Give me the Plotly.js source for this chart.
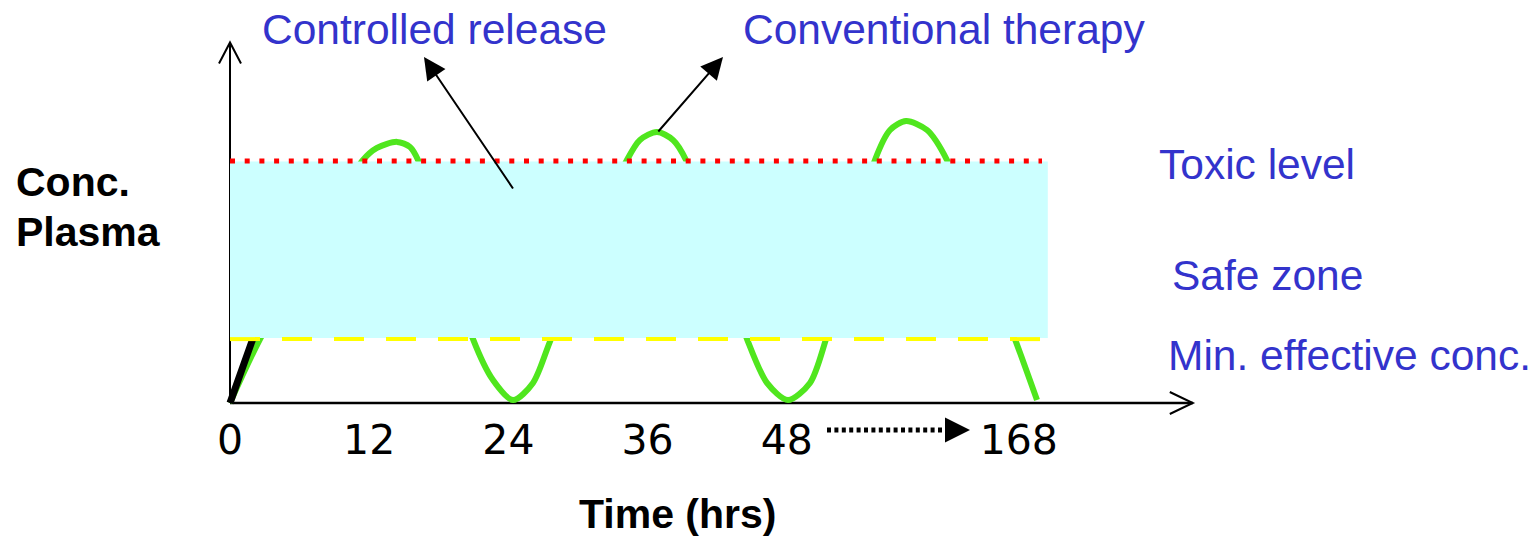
<!DOCTYPE html>
<html><head><meta charset="utf-8">
<script src="https://cdn.plot.ly/plotly-3.0.1.min.js"></script>
<style>html,body{margin:0;padding:0;background:#fff;overflow:hidden}#chart{width:1533px;height:539px}</style>
</head><body><div id="chart"></div>
<script>
// ---------------- data ----------------
const tickHours  = [0, 12, 24, 36, 48, 68];          // last tick sits after the axis break
const tickLabels = ['0', '12', '24', '36', '48', '168'];

// conventional therapy: repeated doses, concentration oscillates
const conventionalHours = [0, 2.59, 11.47, 12.67, 14.4, 15.52, 16.21, 20.95, 22.67, 24.4, 26.12, 27.67,
  34.22, 35.34, 36.81, 38.19, 39.31, 44.57, 46.29, 48.1, 50.0, 51.38,
  55.6, 56.9, 58.28, 60.09, 61.81, 67.67, 69.57];
const conventionalConc  = [0, 26.4, 100.4, 105.4, 107.9, 105.8, 100.4, 26.4, 9.5, 1.2, 8.3, 26.4,
  100.4, 108.7, 112.0, 108.7, 100.4, 26.4, 8.3, 1.2, 8.3, 26.4,
  100.4, 112.8, 116.5, 112.8, 100.4, 26.4, 1.2];

// controlled release: rises into the safe zone and stays there
const controlledHours = [0, 1.98, 4.6, 70];
const controlledConc  = [0, 26.9, 62, 62];

const toxicLevel = 100;
const mecLevel = 26.4;
const safeZoneConc = [26.9, 99.8];
const safeZoneHours = [0, 70.5];
const levelLineHours = [0, 70];

const labelsText = {
  controlled: 'Controlled release',
  conventional: 'Conventional therapy',
  toxic: 'Toxic level',
  safe: 'Safe zone',
  mec: 'Min. effective conc.',
  yTitle1: 'Conc.',
  yTitle2: 'Plasma',
  xTitle: 'Time (hrs)'
};

// ---------------- layout geometry ----------------
const W = 1533, H = 539;
const originPx = 230, originPy = 403;
const pxPerHour = 11.6, pxPerConc = 2.42;
const xRange = [-originPx / pxPerHour, (W - originPx) / pxPerHour];
const yRange = [-(H - originPy) / pxPerConc, originPy / pxPerConc];
const axisEndHours = 83, axisEndConc = 149;
const px = v => v / W, py = v => 1 - v / H;

const blue = '#3333CC';
const green = '#50E61E';

const traces = [
  {x: conventionalHours, y: conventionalConc, mode: 'lines',
   line: {color: green, width: 6, shape: 'spline', smoothing: 0.8}, hoverinfo: 'skip'},
  {x: controlledHours, y: controlledConc, mode: 'lines',
   line: {color: '#000000', width: 7}, hoverinfo: 'skip'},
  {x: [safeZoneHours[0], safeZoneHours[1], safeZoneHours[1], safeZoneHours[0], safeZoneHours[0]],
   y: [safeZoneConc[0], safeZoneConc[0], safeZoneConc[1], safeZoneConc[1], safeZoneConc[0]],
   mode: 'lines', fill: 'toself', fillcolor: '#CCFFFF', line: {width: 0, color: '#CCFFFF'}, hoverinfo: 'skip'},
  {x: levelLineHours, y: [toxicLevel, toxicLevel], mode: 'lines',
   line: {color: '#FF0000', width: 5, dash: '5px,9.7px'}, hoverinfo: 'skip'},
  {x: levelLineHours, y: [mecLevel, mecLevel], mode: 'lines',
   line: {color: '#FFFF00', width: 4, dash: '30px,22px'}, hoverinfo: 'skip'}
];

const blueFont = {family: 'Liberation Sans, Arial, sans-serif', size: 42.5, color: blue};
const boldFont = {family: 'Liberation Sans, Arial, sans-serif', size: 41, color: '#000', weight: 'bold'};

const annotations = [
  {xref: 'paper', yref: 'paper', x: px(434), y: py(30), xanchor: 'center', yanchor: 'middle', text: labelsText.controlled, showarrow: false, font: blueFont},
  {xref: 'paper', yref: 'paper', x: px(944), y: py(29), xanchor: 'center', yanchor: 'middle', text: labelsText.conventional, showarrow: false, font: blueFont},
  {xref: 'paper', yref: 'paper', x: px(1157), y: py(164), xanchor: 'left', yanchor: 'middle', text: labelsText.toxic, showarrow: false, font: blueFont},
  {xref: 'paper', yref: 'paper', x: px(1170), y: py(275), xanchor: 'left', yanchor: 'middle', text: labelsText.safe, showarrow: false, font: blueFont},
  {xref: 'paper', yref: 'paper', x: px(1166), y: py(355), xanchor: 'left', yanchor: 'middle', text: labelsText.mec, showarrow: false, font: blueFont},
  {xref: 'paper', yref: 'paper', x: px(14), y: py(182), xanchor: 'left', yanchor: 'middle', text: labelsText.yTitle1, showarrow: false, font: boldFont},
  {xref: 'paper', yref: 'paper', x: px(14), y: py(232), xanchor: 'left', yanchor: 'middle', text: labelsText.yTitle2, showarrow: false, font: boldFont},
  {xref: 'paper', yref: 'paper', x: px(677), y: py(514), xanchor: 'center', yanchor: 'middle', text: labelsText.xTitle, showarrow: false, font: boldFont},
  // pointer arrows
  {xref: 'paper', yref: 'paper', x: px(424), y: py(57), axref: 'pixel', ayref: 'pixel', ax: 90, ay: 133,
   text: '', showarrow: true, arrowhead: 2, arrowsize: 2.2, arrowwidth: 2, arrowcolor: '#000'},
  {xref: 'paper', yref: 'paper', x: px(723), y: py(57), axref: 'pixel', ayref: 'pixel', ax: -66, ay: 76,
   text: '', showarrow: true, arrowhead: 2, arrowsize: 2.2, arrowwidth: 2, arrowcolor: '#000'},
  // axis-break arrow head
  {xref: 'paper', yref: 'paper', x: px(970), y: py(430), axref: 'pixel', ayref: 'pixel', ax: -18, ay: 0,
   text: '', showarrow: true, arrowhead: 2, arrowsize: 2.5, arrowwidth: 2, arrowcolor: '#000'}
];

const shapes = [
  // axis lines (below traces so the safe zone hides them)
  {type: 'line', layer: 'below', xref: 'x', yref: 'y', x0: 0, y0: 0, x1: 0, y1: axisEndConc, line: {color: '#000', width: 2}},
  {type: 'line', layer: 'below', xref: 'x', yref: 'y', x0: 0, y0: 0, x1: axisEndHours, y1: 0, line: {color: '#000', width: 2.5}},
  {type: 'path', layer: 'below', xref: 'x', yref: 'y', xsizemode: 'pixel', ysizemode: 'pixel', xanchor: 0, yanchor: axisEndConc,
   path: 'M-11,-21L0,0L11,-21', line: {color: '#000', width: 2}},
  {type: 'path', layer: 'below', xref: 'x', yref: 'y', xsizemode: 'pixel', ysizemode: 'pixel', xanchor: axisEndHours, yanchor: 0,
   path: 'M-23,11L0,0L-23,-11', line: {color: '#000', width: 2}},
  // dotted axis-break line
  {type: 'line', xref: 'paper', yref: 'paper', x0: px(827), y0: py(430), x1: px(950), y1: py(430),
   line: {color: '#000', width: 5, dash: '4px,3.4px'}}
];

const layout = {
  width: W, height: H,
  margin: {l: 0, r: 0, t: 0, b: 0, pad: 0},
  paper_bgcolor: '#fff', plot_bgcolor: '#fff',
  showlegend: false,
  xaxis: {range: xRange, anchor: 'free', position: py(originPy), showgrid: false, zeroline: false, showline: false,
          ticks: '', tickmode: 'array', tickvals: tickHours, ticktext: tickLabels, ticklabelstandoff: 9,
          tickfont: {family: 'DejaVu Sans, sans-serif', size: 41, color: '#000'}, fixedrange: true},
  yaxis: {range: yRange, visible: false, fixedrange: true},
  annotations: annotations,
  shapes: shapes
};

Plotly.newPlot('chart', traces, layout, {staticPlot: true, displayModeBar: false});
</script>
</body></html>
